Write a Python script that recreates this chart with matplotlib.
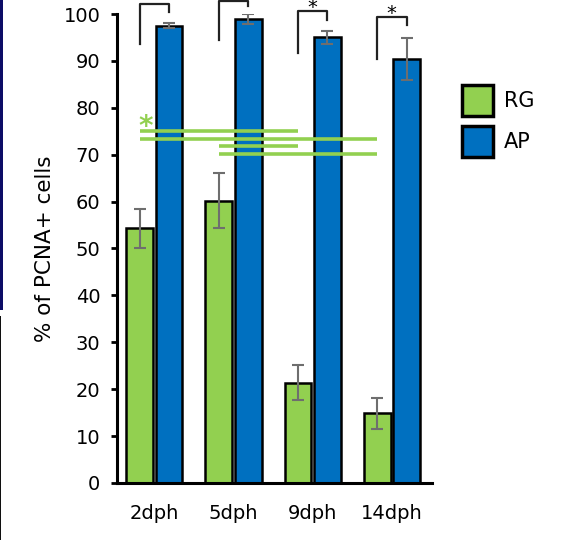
import matplotlib
matplotlib.use("Agg")
import matplotlib.pyplot as plt
from matplotlib.patches import Patch, Rectangle
import numpy as np

# data
etapas = ["2dph", "5dph", "9dph", "14dph"]
rg_media = [54.3, 60.2, 21.4, 14.9]
rg_error = [4.1, 5.8, 3.7, 3.3]
ap_media = [97.5, 98.9, 95.0, 90.4]
ap_error = [0.5, 1.0, 1.35, 4.4]

# bracket heights (left leg bottom, top, right leg bottom) per stage
corchete_izq = [93.6, 94.4, 91.7, 90.4]
corchete_sup = [102.1, 102.8, 100.6, 99.4]
corchete_der = [100.5, 101.8, 98.8, 97.6]
estrellas = [False, False, True, True]

# green comparison lines between RG groups: (from, to, height)
lineas_rg = [(0, 2, 75.1), (0, 3, 73.4), (1, 2, 71.8), (1, 3, 70.2)]

verde = "#92D050"
azul = "#0070C0"
fuente = "DejaVu Sans"
plt.rcParams['font.family'] = [fuente]

fig = plt.figure(figsize=(5.65, 5.4), dpi=100)
ax = fig.add_axes([117 / 565, 1 - 483 / 540, (432 - 117) / 565, (483 - 14) / 540])

x = np.arange(len(etapas))
desp = 0.186
ancho = 0.34
err_kw = dict(ecolor="#6e6e6e", elinewidth=1.5, capsize=4, capthick=1.5)

ax.bar(x - desp, rg_media, ancho, yerr=rg_error, color=verde, edgecolor="black",
       linewidth=1.8, error_kw=err_kw, zorder=2)
ax.bar(x + desp, ap_media, ancho, yerr=ap_error, color=azul, edgecolor="black",
       linewidth=1.8, error_kw=err_kw, zorder=2)

for i in range(len(etapas)):
    xl = x[i] - desp
    xr = x[i] + desp
    ax.plot([xl, xl, xr, xr], [corchete_izq[i], corchete_sup[i], corchete_sup[i], corchete_der[i]],
            color="#222222", linewidth=1.6, clip_on=False, zorder=3)
    if estrellas[i]:
        ax.text(x[i] - 0.01, corchete_sup[i] - 0.4, "*", ha="center", va="baseline",
                fontsize=14, color="black", clip_on=False)

for a, b, h in lineas_rg:
    ax.plot([x[a] - desp, x[b] - desp], [h, h], color=verde, linewidth=2.6, zorder=3,
            solid_capstyle="butt")
ax.text(x[0] - desp + 0.08, 74.1, "*", ha="center", va="baseline", fontsize=20,
        fontweight="bold", color=verde)

ax.set_xlim(-0.47, 3.505)
ax.set_ylim(0, 100)
ax.set_yticks(range(0, 101, 10))
ax.set_xticks(x)
ax.set_xticklabels(etapas)
ax.tick_params(axis="y", length=4, width=2, pad=8, labelsize=14, direction="out")
ax.tick_params(axis="x", length=0, pad=15, labelsize=14)
ax.set_ylabel("% of PCNA+ cells", fontsize=15.5, labelpad=6)

for lado in ["top", "right"]:
    ax.spines[lado].set_visible(False)
for lado in ["left", "bottom"]:
    ax.spines[lado].set_linewidth(2.2)
    ax.spines[lado].set_color("black")

manejadores = [Patch(facecolor=verde, edgecolor="black", linewidth=2.5, label="RG"),
               Patch(facecolor=azul, edgecolor="black", linewidth=2.5, label="AP")]
fig.legend(handles=manejadores, loc="upper left", bbox_to_anchor=(462 / 565, 1 - 85 / 540),
           frameon=False, fontsize=15, handlelength=1.5, handleheight=1.9,
           handletextpad=0.5, labelspacing=0.5, borderpad=0, borderaxespad=0)

# dark strip on the left edge of the original picture
fig.patches.append(Rectangle((0, 1 - 310 / 540), 3 / 565, 310 / 540, transform=fig.transFigure,
                             facecolor="#0c0c66", edgecolor="none"))
fig.patches.append(Rectangle((0, 0), 1.2 / 565, 1 - 316 / 540, transform=fig.transFigure,
                             facecolor="#101010", edgecolor="none"))

fig.savefig("out.png", dpi=100)
